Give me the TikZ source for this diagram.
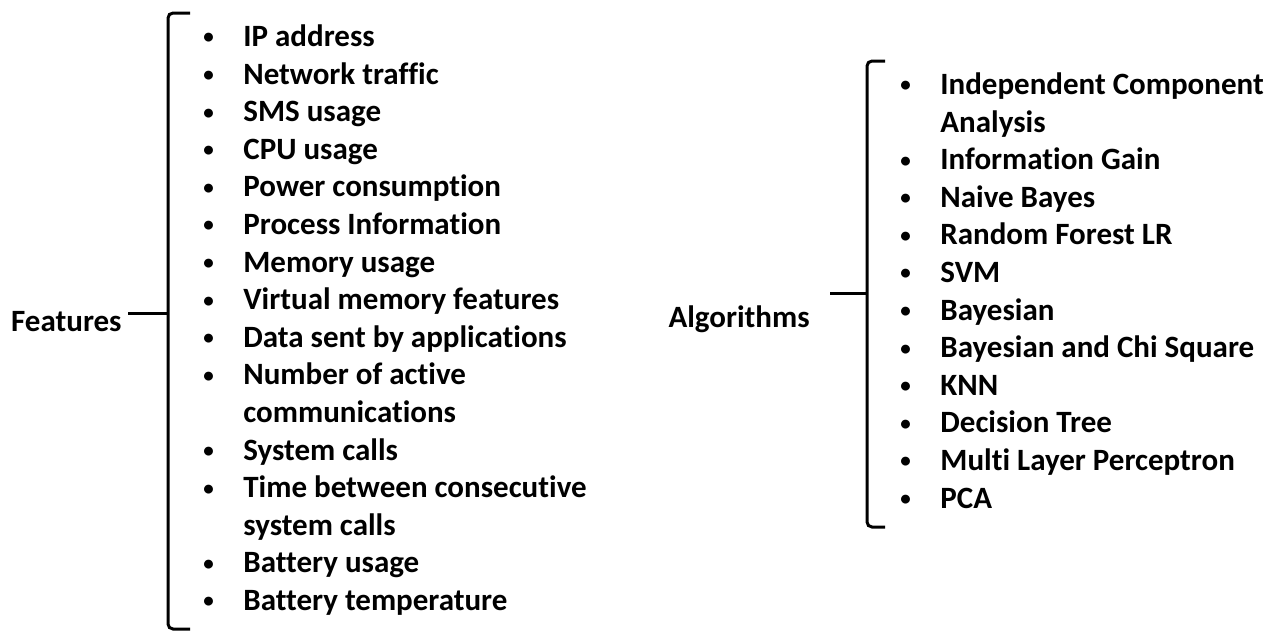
\documentclass[tikz,border=0pt]{standalone}
\usepackage{fontspec}
\setmainfont{Carlito}[Ligatures=NoCommon]
\usetikzlibrary{positioning}
\tikzset{
  entry/.style={anchor=base west, inner sep=0pt, font=\fontsize{15.5pt}{18.8pt}\selectfont\bfseries},
  head/.style={anchor=base east, inner sep=0pt, font=\fontsize{15.5pt}{18.8pt}\selectfont\bfseries},
  brace/.style={line width=1.5pt, rounded corners=2.5pt}
}
\newcommand{\bul}[1]{\makebox[20pt][l]{\raisebox{1.3pt}{\fontsize{10.5pt}{10.5pt}\selectfont #1}}}

\begin{document}
\begin{tikzpicture}[x=0.5pt, y=-0.5pt]
        \useasboundingbox (0,0) rectangle (1273,633);
        % Left group
        \node (feat) [head, inner sep=3pt] at (128,331.5) {Features};
        \foreach \mk/\txt [count=\i from 0] in {\textbullet/IP address, \textbullet/Network traffic,
            \textbullet/SMS usage, \textbullet/CPU usage, \textbullet/Power consumption,
            \textbullet/Process Information, \textbullet/Memory usage, \textbullet/Virtual memory features,
            \textbullet/Data sent by applications, \textbullet/Number of active, {}/communications,
            \textbullet/System calls, \textbullet/Time between consecutive, {}/system calls,
            \textbullet/Battery usage, \textbullet/Battery temperature}
            \node (f\i) [entry] at (203,46.5+37.6*\i) {\bul{\mk}\txt};
        \coordinate (ftop) at (190,13);
        \coordinate (fbot) at (190,629);
        \coordinate (ftip) at (168,313);
        \draw [brace] (ftop) -- (168,13) -- (168,629) -- (fbot);
        \draw [brace] (feat.east |- ftip) -- (ftip);

        % Right group
        \node (alg) [head] at (810,327.5) {Algorithms};
        \foreach \mk/\txt [count=\i from 0] in {\textbullet/Independent Component, {}/Analysis,
            \textbullet/Information Gain, \textbullet/Naive Bayes, \textbullet/Random Forest LR,
            \textbullet/SVM, \textbullet/Bayesian, \textbullet/Bayesian and Chi Square,
            \textbullet/KNN, \textbullet/Decision Tree, \textbullet/Multi Layer Perceptron,
            \textbullet/PCA}
            \node (a\i) [entry] at (900,94.5+37.6*\i) {\bul{\mk}\txt};
        \coordinate (atop) at (885,61);
        \coordinate (abot) at (885,527);
        \coordinate (atip) at (867,293);
        \draw [brace] (atop) -- (867,61) -- (867,527) -- (abot);
        \draw [brace] ([xshift=10pt]alg.east |- atip) -- (atip);
    \end{tikzpicture}
\end{document}
